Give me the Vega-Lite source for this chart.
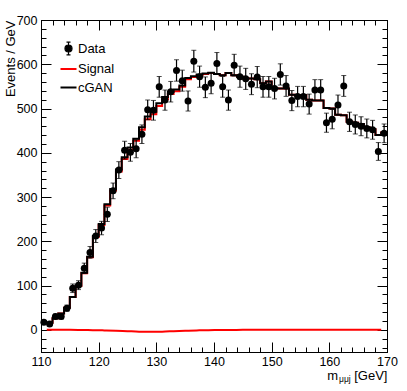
{
  "$schema": "https://vega.github.io/schema/vega-lite/v6.json",
  "width": 346,
  "height": 332,
  "autosize": {"type": "none"},
  "padding": {"left": 41, "top": 20, "right": 20, "bottom": 39},
  "background": "white",
  "datasets": {
    "data": [
      {"series": "Data", "m": 110.5, "n": 17, "err": 4.1},
      {"series": "Data", "m": 111.5, "n": 13, "err": 3.6},
      {"series": "Data", "m": 112.5, "n": 30, "err": 5.5},
      {"series": "Data", "m": 113.5, "n": 30, "err": 5.5},
      {"series": "Data", "m": 114.5, "n": 49, "err": 7},
      {"series": "Data", "m": 115.5, "n": 94, "err": 9.7},
      {"series": "Data", "m": 116.5, "n": 101, "err": 10},
      {"series": "Data", "m": 117.5, "n": 139, "err": 11.8},
      {"series": "Data", "m": 118.5, "n": 175, "err": 13.2},
      {"series": "Data", "m": 119.5, "n": 212, "err": 14.6},
      {"series": "Data", "m": 120.5, "n": 230, "err": 15.2},
      {"series": "Data", "m": 121.5, "n": 261, "err": 16.2},
      {"series": "Data", "m": 122.5, "n": 314, "err": 17.7},
      {"series": "Data", "m": 123.5, "n": 361, "err": 19},
      {"series": "Data", "m": 124.5, "n": 406, "err": 20.1},
      {"series": "Data", "m": 125.5, "n": 401, "err": 20},
      {"series": "Data", "m": 126.5, "n": 409, "err": 20.2},
      {"series": "Data", "m": 127.5, "n": 442, "err": 21},
      {"series": "Data", "m": 128.5, "n": 497, "err": 22.3},
      {"series": "Data", "m": 129.5, "n": 496, "err": 22.3},
      {"series": "Data", "m": 130.5, "n": 549, "err": 23.4},
      {"series": "Data", "m": 131.5, "n": 519, "err": 22.8},
      {"series": "Data", "m": 132.5, "n": 538, "err": 23.2},
      {"series": "Data", "m": 133.5, "n": 586, "err": 24.2},
      {"series": "Data", "m": 134.5, "n": 563, "err": 23.7},
      {"series": "Data", "m": 135.5, "n": 517, "err": 22.7},
      {"series": "Data", "m": 136.5, "n": 607, "err": 24.6},
      {"series": "Data", "m": 137.5, "n": 572, "err": 23.9},
      {"series": "Data", "m": 138.5, "n": 548, "err": 23.4},
      {"series": "Data", "m": 139.5, "n": 557, "err": 23.6},
      {"series": "Data", "m": 140.5, "n": 602, "err": 24.5},
      {"series": "Data", "m": 141.5, "n": 549, "err": 23.4},
      {"series": "Data", "m": 142.5, "n": 519, "err": 22.8},
      {"series": "Data", "m": 143.5, "n": 598, "err": 24.5},
      {"series": "Data", "m": 144.5, "n": 572, "err": 23.9},
      {"series": "Data", "m": 145.5, "n": 567, "err": 23.8},
      {"series": "Data", "m": 146.5, "n": 555, "err": 23.6},
      {"series": "Data", "m": 147.5, "n": 571, "err": 23.9},
      {"series": "Data", "m": 148.5, "n": 549, "err": 23.4},
      {"series": "Data", "m": 149.5, "n": 549, "err": 23.4},
      {"series": "Data", "m": 150.5, "n": 545, "err": 23.3},
      {"series": "Data", "m": 151.5, "n": 577, "err": 24},
      {"series": "Data", "m": 152.5, "n": 551, "err": 23.5},
      {"series": "Data", "m": 153.5, "n": 518, "err": 22.8},
      {"series": "Data", "m": 154.5, "n": 527, "err": 23},
      {"series": "Data", "m": 155.5, "n": 527, "err": 23},
      {"series": "Data", "m": 156.5, "n": 510, "err": 22.6},
      {"series": "Data", "m": 157.5, "n": 542, "err": 23.3},
      {"series": "Data", "m": 158.5, "n": 542, "err": 23.3},
      {"series": "Data", "m": 159.5, "n": 468, "err": 21.6},
      {"series": "Data", "m": 160.5, "n": 476, "err": 21.8},
      {"series": "Data", "m": 161.5, "n": 508, "err": 22.5},
      {"series": "Data", "m": 162.5, "n": 551, "err": 23.5},
      {"series": "Data", "m": 163.5, "n": 470, "err": 21.7},
      {"series": "Data", "m": 164.5, "n": 464, "err": 21.5},
      {"series": "Data", "m": 165.5, "n": 460, "err": 21.4},
      {"series": "Data", "m": 166.5, "n": 455, "err": 21.3},
      {"series": "Data", "m": 167.5, "n": 452, "err": 21.3},
      {"series": "Data", "m": 168.5, "n": 403, "err": 20.1},
      {"series": "Data", "m": 169.5, "n": 444, "err": 21.1}
    ],
    "cgan": [
      {"series": "cGAN", "m": 110, "n": 16}, {"series": "cGAN", "m": 111, "n": 16},
      {"series": "cGAN", "m": 112, "n": 26}, {"series": "cGAN", "m": 113, "n": 37},
      {"series": "cGAN", "m": 114, "n": 50}, {"series": "cGAN", "m": 115, "n": 74},
      {"series": "cGAN", "m": 116, "n": 100}, {"series": "cGAN", "m": 117, "n": 129},
      {"series": "cGAN", "m": 118, "n": 165}, {"series": "cGAN", "m": 119, "n": 212},
      {"series": "cGAN", "m": 120, "n": 239}, {"series": "cGAN", "m": 121, "n": 284},
      {"series": "cGAN", "m": 122, "n": 318}, {"series": "cGAN", "m": 123, "n": 362},
      {"series": "cGAN", "m": 124, "n": 390}, {"series": "cGAN", "m": 125, "n": 412},
      {"series": "cGAN", "m": 126, "n": 432}, {"series": "cGAN", "m": 127, "n": 458},
      {"series": "cGAN", "m": 128, "n": 482}, {"series": "cGAN", "m": 129, "n": 493},
      {"series": "cGAN", "m": 130, "n": 512}, {"series": "cGAN", "m": 131, "n": 526},
      {"series": "cGAN", "m": 132, "n": 538}, {"series": "cGAN", "m": 133, "n": 543},
      {"series": "cGAN", "m": 134, "n": 552}, {"series": "cGAN", "m": 135, "n": 569},
      {"series": "cGAN", "m": 136, "n": 573}, {"series": "cGAN", "m": 137, "n": 577},
      {"series": "cGAN", "m": 138, "n": 579}, {"series": "cGAN", "m": 139, "n": 581},
      {"series": "cGAN", "m": 140, "n": 578}, {"series": "cGAN", "m": 141, "n": 575},
      {"series": "cGAN", "m": 142, "n": 580}, {"series": "cGAN", "m": 143, "n": 575},
      {"series": "cGAN", "m": 144, "n": 572}, {"series": "cGAN", "m": 145, "n": 568},
      {"series": "cGAN", "m": 146, "n": 568}, {"series": "cGAN", "m": 147, "n": 566},
      {"series": "cGAN", "m": 148, "n": 557}, {"series": "cGAN", "m": 149, "n": 561},
      {"series": "cGAN", "m": 150, "n": 546}, {"series": "cGAN", "m": 151, "n": 545},
      {"series": "cGAN", "m": 152, "n": 545}, {"series": "cGAN", "m": 153, "n": 531},
      {"series": "cGAN", "m": 154, "n": 530}, {"series": "cGAN", "m": 155, "n": 530},
      {"series": "cGAN", "m": 156, "n": 520}, {"series": "cGAN", "m": 157, "n": 518},
      {"series": "cGAN", "m": 158, "n": 518}, {"series": "cGAN", "m": 159, "n": 501},
      {"series": "cGAN", "m": 160, "n": 500}, {"series": "cGAN", "m": 161, "n": 486},
      {"series": "cGAN", "m": 162, "n": 485}, {"series": "cGAN", "m": 163, "n": 470},
      {"series": "cGAN", "m": 164, "n": 468}, {"series": "cGAN", "m": 165, "n": 465},
      {"series": "cGAN", "m": 166, "n": 458}, {"series": "cGAN", "m": 167, "n": 453},
      {"series": "cGAN", "m": 168, "n": 440}, {"series": "cGAN", "m": 169, "n": 446},
      {"series": "cGAN", "m": 170, "n": 446}
    ],
    "total": [
      {"m": 110, "n": 16}, {"m": 111, "n": 16}, {"m": 112, "n": 26}, {"m": 113, "n": 37},
      {"m": 114, "n": 50}, {"m": 115, "n": 74}, {"m": 116, "n": 99}, {"m": 117, "n": 128},
      {"m": 118, "n": 164}, {"m": 119, "n": 210}, {"m": 120, "n": 237}, {"m": 121, "n": 281},
      {"m": 122, "n": 315}, {"m": 123, "n": 358}, {"m": 124, "n": 386}, {"m": 125, "n": 407},
      {"m": 126, "n": 427}, {"m": 127, "n": 452}, {"m": 128, "n": 476}, {"m": 129, "n": 487},
      {"m": 130, "n": 506}, {"m": 131, "n": 521}, {"m": 132, "n": 533}, {"m": 133, "n": 539},
      {"m": 134, "n": 549}, {"m": 135, "n": 566}, {"m": 136, "n": 571}, {"m": 137, "n": 575},
      {"m": 138, "n": 578}, {"m": 139, "n": 580}, {"m": 140, "n": 578}, {"m": 141, "n": 575},
      {"m": 142, "n": 580}, {"m": 143, "n": 575}, {"m": 144, "n": 572}, {"m": 145, "n": 568},
      {"m": 146, "n": 568}, {"m": 147, "n": 566}, {"m": 148, "n": 557}, {"m": 149, "n": 561},
      {"m": 150, "n": 546}, {"m": 151, "n": 545}, {"m": 152, "n": 545}, {"m": 153, "n": 531},
      {"m": 154, "n": 530}, {"m": 155, "n": 530}, {"m": 156, "n": 520}, {"m": 157, "n": 518},
      {"m": 158, "n": 518}, {"m": 159, "n": 501}, {"m": 160, "n": 500}, {"m": 161, "n": 486},
      {"m": 162, "n": 485}, {"m": 163, "n": 470}, {"m": 164, "n": 468}, {"m": 165, "n": 465},
      {"m": 166, "n": 458}, {"m": 167, "n": 453}, {"m": 168, "n": 440}, {"m": 169, "n": 446},
      {"m": 170, "n": 446}
    ],
    "signal": [
      {"series": "Signal", "m": 111, "n": 0}, {"series": "Signal", "m": 113, "n": 0},
      {"series": "Signal", "m": 115, "n": 0}, {"series": "Signal", "m": 117, "n": -0.3},
      {"series": "Signal", "m": 119, "n": -0.7}, {"series": "Signal", "m": 121, "n": -1.2},
      {"series": "Signal", "m": 123, "n": -2}, {"series": "Signal", "m": 125, "n": -3},
      {"series": "Signal", "m": 127, "n": -4}, {"series": "Signal", "m": 129, "n": -4.5},
      {"series": "Signal", "m": 131, "n": -4}, {"series": "Signal", "m": 133, "n": -3},
      {"series": "Signal", "m": 135, "n": -2}, {"series": "Signal", "m": 137, "n": -1.2},
      {"series": "Signal", "m": 139, "n": -0.7}, {"series": "Signal", "m": 141, "n": -0.4},
      {"series": "Signal", "m": 143, "n": -0.2}, {"series": "Signal", "m": 145, "n": 0},
      {"series": "Signal", "m": 147, "n": 0}, {"series": "Signal", "m": 149, "n": 0},
      {"series": "Signal", "m": 151, "n": 0}, {"series": "Signal", "m": 153, "n": 0},
      {"series": "Signal", "m": 155, "n": 0}, {"series": "Signal", "m": 157, "n": 0},
      {"series": "Signal", "m": 159, "n": 0}, {"series": "Signal", "m": 161, "n": 0},
      {"series": "Signal", "m": 163, "n": 0}, {"series": "Signal", "m": 165, "n": 0},
      {"series": "Signal", "m": 167, "n": 0}, {"series": "Signal", "m": 169, "n": 0}
    ]
  },
  "resolve": {"axis": {"x": "independent", "y": "independent"}},
  "layer": [
    {
      "data": {"name": "total"},
      "mark": {"type": "line", "interpolate": "step-after", "color": "#ff0000", "strokeWidth": 2},
      "encoding": {
        "x": {"field": "m", "type": "quantitative", "scale": {"domain": [110, 170], "nice": false, "zero": false},
          "axis": {"orient": "bottom", "values": [110, 120, 130, 140, 150, 160, 170], "tickSize": -10, "labelPadding": 13,
            "title": "[GeV]", "titleX": 346, "titleY": 27, "titleAlign": "right", "titleBaseline": "alphabetic"}},
        "y": {"field": "n", "type": "quantitative", "scale": {"domain": [-50, 700], "nice": false, "zero": false},
          "axis": {"orient": "left", "values": [0, 100, 200, 300, 400, 500, 600, 700], "tickSize": -10, "labelPadding": 14,
            "title": "Events / GeV", "titleX": -27, "titleY": 0, "titleAngle": -90, "titleAlign": "right", "titleBaseline": "alphabetic"}}
      }
    },
    {
      "data": {"name": "signal"},
      "mark": {"type": "line", "interpolate": "monotone", "strokeWidth": 2},
      "encoding": {
        "x": {"field": "m", "type": "quantitative", "scale": {"domain": [110, 170], "nice": false, "zero": false},
          "axis": {"orient": "bottom", "values": [110,112,114,116,118,120,122,124,126,128,130,132,134,136,138,140,142,144,146,148,150,152,154,156,158,160,162,164,166,168,170],
            "tickSize": -5, "labels": false, "title": "m", "titleX": 296.5, "titleY": 27, "titleAlign": "right", "titleBaseline": "alphabetic"}},
        "y": {"field": "n", "type": "quantitative", "scale": {"domain": [-50, 700], "nice": false, "zero": false},
          "axis": {"orient": "left", "values": [-40,-20,0,20,40,60,80,100,120,140,160,180,200,220,240,260,280,300,320,340,360,380,400,420,440,460,480,500,520,540,560,580,600,620,640,660,680,700],
            "tickSize": -5, "labels": false, "title": null}},
        "color": {"field": "series", "type": "nominal",
          "scale": {"domain": ["Data", "Signal", "cGAN"], "range": ["#000000", "#ff0000", "#000000"]},
          "legend": {
            "orient": "none", "legendX": 21, "legendY": 22, "title": null, "padding": 0, "rowPadding": 4.5,
            "symbolSize": 256, "labelFontSize": 13, "labelFont": "Liberation Sans", "labelOffset": 3, "labelColor": "black",
            "encode": {"symbols": {"update": {
              "shape": {"signal": "datum.value === 'Data' ? 'M-0.44,0A0.44,0.44 0 1,1 0.44,0A0.44,0.44 0 1,1 -0.44,0Z M0,-0.8L0,0.8 M-0.25,-0.8L0.25,-0.8 M-0.25,0.8L0.25,0.8' : 'stroke'"},
              "fill": {"signal": "datum.value === 'Data' ? '#000000' : 'transparent'"},
              "stroke": {"signal": "datum.value === 'Signal' ? '#ff0000' : '#000000'"},
              "strokeWidth": {"signal": "datum.value === 'Data' ? 1.2 : 2"},
              "size": {"value": 256},
              "opacity": {"value": 1}
            }}}
          }}
      }
    },
    {
      "data": {"name": "cgan"},
      "mark": {"type": "line", "interpolate": "step-after", "strokeWidth": 2},
      "encoding": {
        "x": {"field": "m", "type": "quantitative", "scale": {"domain": [110, 170], "nice": false, "zero": false},
          "axis": {"orient": "top", "values": [110, 120, 130, 140, 150, 160, 170], "tickSize": -10, "labels": false, "title": null}},
        "y": {"field": "n", "type": "quantitative", "scale": {"domain": [-50, 700], "nice": false, "zero": false},
          "axis": {"orient": "right", "values": [0, 100, 200, 300, 400, 500, 600, 700], "tickSize": -10, "labels": false, "title": null}},
        "color": {"field": "series", "type": "nominal"}
      }
    },
    {
      "data": {"name": "data"},
      "mark": {"type": "errorbar", "ticks": {"size": 5, "color": "black"}, "rule": {"color": "black", "strokeWidth": 1.2}},
      "encoding": {
        "x": {"field": "m", "type": "quantitative", "scale": {"domain": [110, 170], "nice": false, "zero": false},
          "axis": {"orient": "bottom", "ticks": false, "labels": false, "domain": false, "title": "μμj", "titleFontSize": 8.5,
            "titleX": 297.5, "titleY": 29.5, "titleAlign": "left", "titleBaseline": "alphabetic"}},
        "y": {"field": "n", "type": "quantitative", "scale": {"domain": [-50, 700], "nice": false, "zero": false}, "axis": null},
        "yError": {"field": "err"}
      }
    },
    {
      "data": {"name": "data"},
      "mark": {"type": "circle", "size": 49, "opacity": 1},
      "encoding": {
        "x": {"field": "m", "type": "quantitative", "scale": {"domain": [110, 170], "nice": false, "zero": false},
          "axis": {"orient": "top", "values": [110,112,114,116,118,120,122,124,126,128,130,132,134,136,138,140,142,144,146,148,150,152,154,156,158,160,162,164,166,168,170],
            "tickSize": -5, "labels": false, "title": null}},
        "y": {"field": "n", "type": "quantitative", "scale": {"domain": [-50, 700], "nice": false, "zero": false},
          "axis": {"orient": "right", "values": [-40,-20,0,20,40,60,80,100,120,140,160,180,200,220,240,260,280,300,320,340,360,380,400,420,440,460,480,500,520,540,560,580,600,620,640,660,680,700],
            "tickSize": -5, "labels": false, "title": null}},
        "color": {"field": "series", "type": "nominal"}
      }
    }
  ],
  "config": {
    "view": {"stroke": "black", "strokeWidth": 1},
    "axis": {"domainColor": "black", "tickColor": "black", "labelColor": "black", "titleColor": "black",
      "labelFont": "Liberation Sans", "titleFont": "Liberation Sans", "labelFontSize": 12.5, "titleFontSize": 13,
      "titleFontWeight": "normal", "grid": false, "labelFlush": false, "labelOverlap": false, "labelBound": false,
      "domainWidth": 1, "tickWidth": 1}
  }
}
